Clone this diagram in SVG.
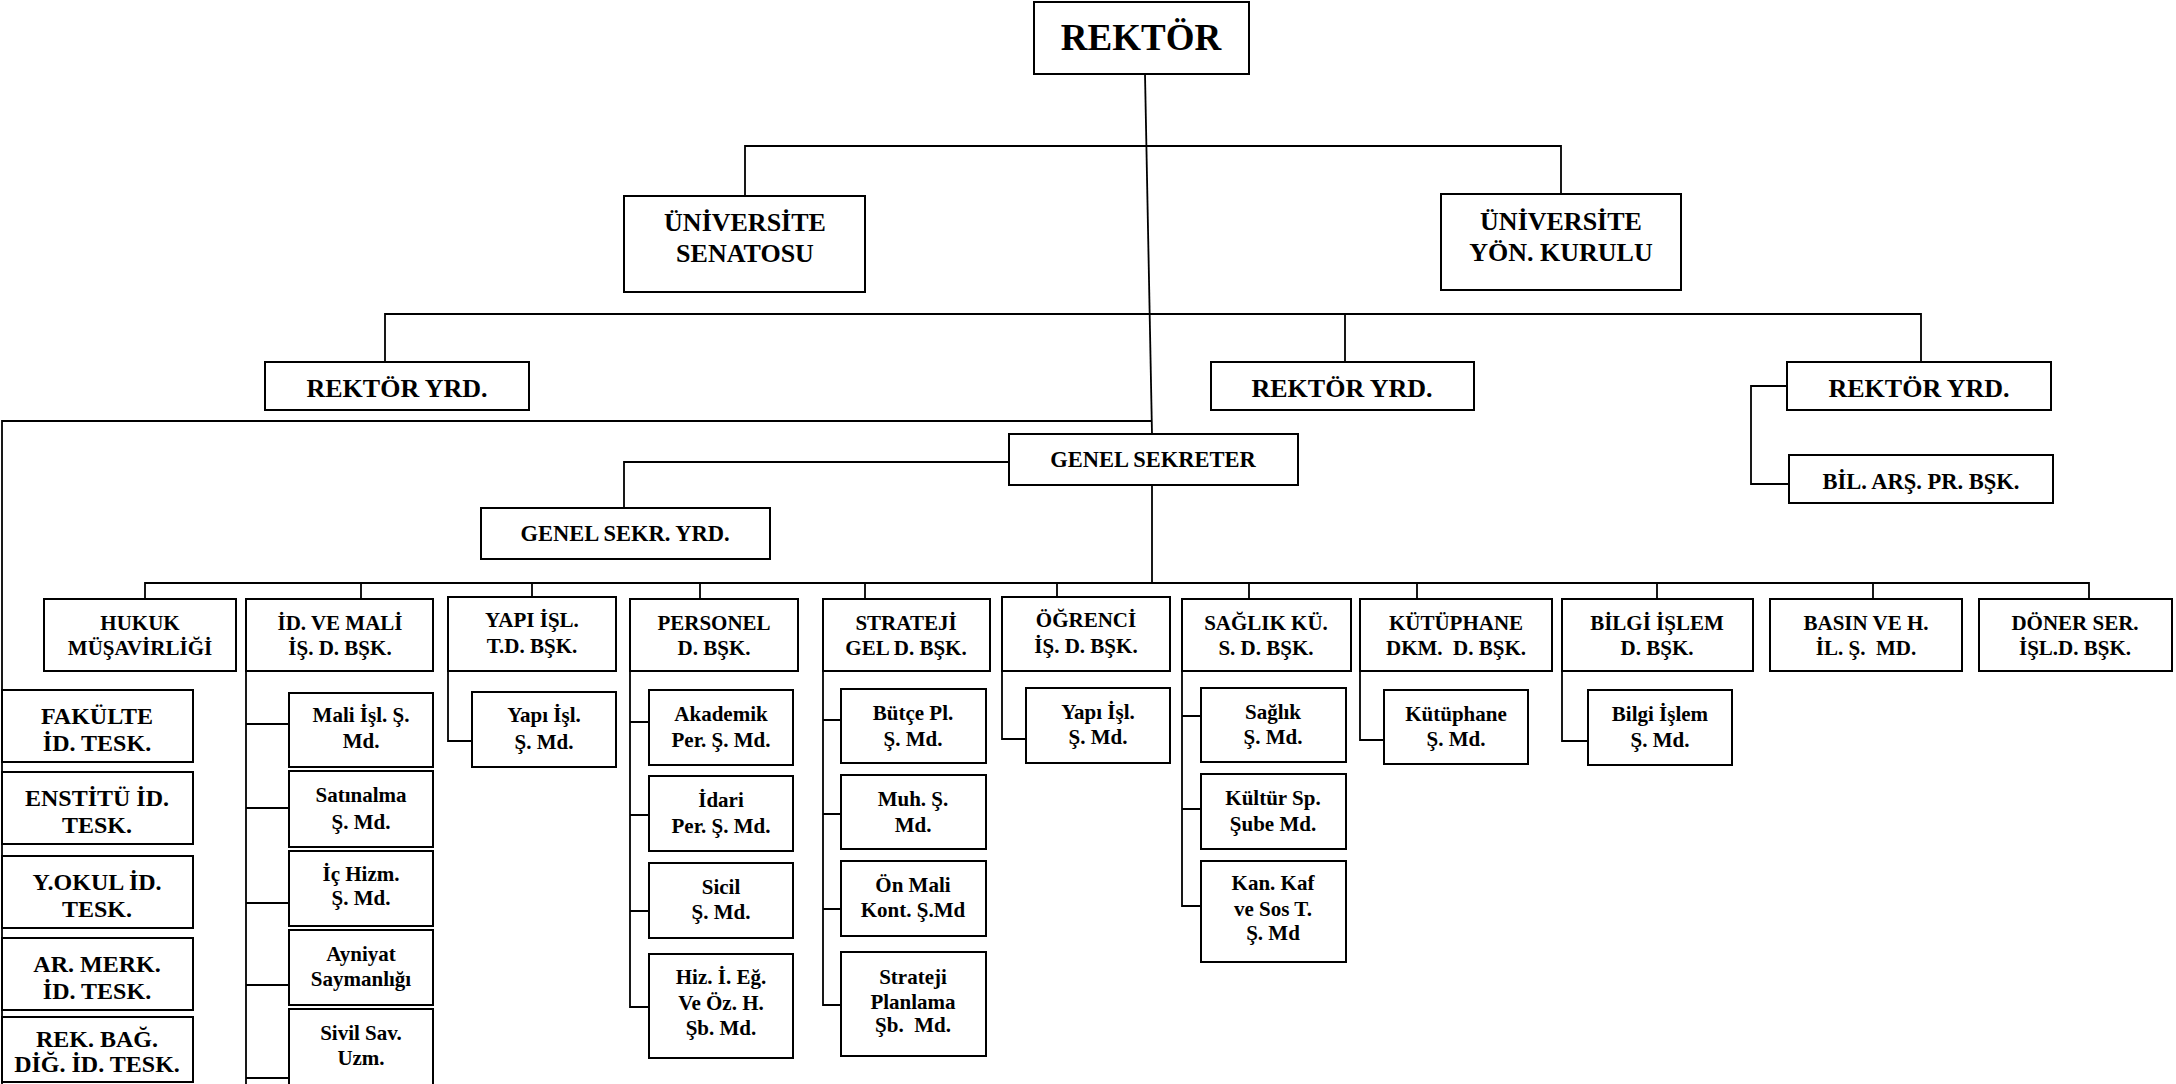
<svg xmlns="http://www.w3.org/2000/svg" width="2176" height="1084" viewBox="0 0 2176 1084">
<style>
rect{fill:#fff;stroke:#000;stroke-width:2}
text{font-family:"Liberation Serif","Times New Roman",serif;font-weight:bold;text-anchor:middle;fill:#000}
.f37{font-size:37px}.f26{font-size:26px}.f24{font-size:24px}.f22{font-size:22.5px}.f21{font-size:21px}
.c path,.c line{fill:none;stroke:#000;stroke-width:1.8}
</style>
<rect x="0" y="0" width="2176" height="1084" style="stroke:none"/>
<g class="c" id="connectors">
<path d="M1145 74 L1152 434"/>
<path d="M1152 485 V583"/>
<path d="M745 196 V146 H1561 V194"/>
<path d="M385 362 V314 H1921 V362 M1345 314 V362"/>
<path d="M1152 421 H2 V1084"/>
<path d="M1009 462 H624 V508"/>
<path d="M1787 386 H1751 V484 H1789"/>
<path d="M145 599 V583 H2089 V599 M361 583 V599 M532 583 V597 M700 583 V599 M865 583 V599 M1057 583 V597 M1249 583 V599 M1417 583 V599 M1657 583 V599 M1873 583 V599"/>
<path d="M246 671 V1084 M246 724 H289 M246 808 H289 M246 903 H289 M246 985 H289 M246 1078 H289"/>
<path d="M448 671 V741 H472"/>
<path d="M630 671 V1007 H649 M630 722 H654 M630 815 H649 M630 911 H649"/>
<path d="M823 671 V1005 H841 M823 720 H847 M823 814 H841 M823 909 H841"/>
<path d="M1002 671 V739 H1026"/>
<path d="M1182 671 V906 H1201 M1182 716 H1201 M1182 809 H1201"/>
<path d="M1360 671 V740 H1384"/>
<path d="M1562 671 V741 H1588"/>
</g>
<g id="rektor"><rect x="1034" y="2" width="215" height="72"/><text class="f37" x="1141" y="50">REKTÖR</text></g>
<g id="senato"><rect x="624" y="196" width="241" height="96"/><text class="f26" x="745" y="231">ÜNİVERSİTE</text><text class="f26" x="745" y="262">SENATOSU</text></g>
<g id="yonetim"><rect x="1441" y="194" width="240" height="96"/><text class="f26" x="1561" y="230">ÜNİVERSİTE</text><text class="f26" x="1561" y="261">YÖN. KURULU</text></g>
<g id="ryrd1"><rect x="265" y="362" width="264" height="48"/><text class="f26" x="397" y="397">REKTÖR YRD.</text></g>
<g id="ryrd2"><rect x="1211" y="362" width="263" height="48"/><text class="f26" x="1342" y="397">REKTÖR YRD.</text></g>
<g id="ryrd3"><rect x="1787" y="362" width="264" height="48"/><text class="f26" x="1919" y="397">REKTÖR YRD.</text></g>
<g id="bilars"><rect x="1789" y="455" width="264" height="48"/><text class="f22" x="1921" y="489">BİL. ARŞ. PR. BŞK.</text></g>
<g id="gensek"><rect x="1009" y="434" width="289" height="51"/><text class="f22" x="1153" y="467">GENEL SEKRETER</text></g>
<g id="gsyrd"><rect x="481" y="508" width="289" height="51"/><text class="f22" x="625" y="541">GENEL SEKR. YRD.</text></g>

<g id="hukuk"><rect x="44" y="599" width="192" height="72"/><text class="f21" x="140" y="630">HUKUK</text><text class="f21" x="140" y="655">MÜŞAVİRLİĞİ</text></g>
<g id="idmali"><rect x="246" y="599" width="187" height="72"/><text class="f21" x="340" y="630">İD. VE MALİ</text><text class="f21" x="340" y="655">İŞ. D. BŞK.</text></g>
<g id="yapi"><rect x="448" y="597" width="168" height="74"/><text class="f21" x="532" y="627">YAPI İŞL.</text><text class="f21" x="532" y="653">T.D. BŞK.</text></g>
<g id="personel"><rect x="630" y="599" width="168" height="72"/><text class="f21" x="714" y="630">PERSONEL</text><text class="f21" x="714" y="655">D. BŞK.</text></g>
<g id="strateji"><rect x="823" y="599" width="167" height="72"/><text class="f21" x="906" y="630">STRATEJİ</text><text class="f21" x="906" y="655">GEL D. BŞK.</text></g>
<g id="ogrenci"><rect x="1002" y="597" width="168" height="74"/><text class="f21" x="1086" y="627">ÖĞRENCİ</text><text class="f21" x="1086" y="653">İŞ. D. BŞK.</text></g>
<g id="saglik"><rect x="1182" y="599" width="169" height="72"/><text class="f21" x="1266" y="630">SAĞLIK KÜ.</text><text class="f21" x="1266" y="655">S. D. BŞK.</text></g>
<g id="kutuphane"><rect x="1360" y="599" width="192" height="72"/><text class="f21" x="1456" y="630">KÜTÜPHANE</text><text class="f21" x="1456" y="655" xml:space="preserve">DKM.  D. BŞK.</text></g>
<g id="bilgi"><rect x="1562" y="599" width="191" height="72"/><text class="f21" x="1657" y="630">BİLGİ İŞLEM</text><text class="f21" x="1657" y="655">D. BŞK.</text></g>
<g id="basin"><rect x="1770" y="599" width="192" height="72"/><text class="f21" x="1866" y="630">BASIN VE H.</text><text class="f21" x="1866" y="655" xml:space="preserve">İL. Ş.  MD.</text></g>
<g id="doner"><rect x="1979" y="599" width="193" height="72"/><text class="f21" x="2075" y="630">DÖNER SER.</text><text class="f21" x="2075" y="655">İŞL.D. BŞK.</text></g>

<g id="fakulte"><rect x="2" y="690" width="191" height="72"/><text class="f24" x="97" y="724">FAKÜLTE</text><text class="f24" x="97" y="751">İD. TESK.</text></g>
<g id="enstitu"><rect x="2" y="772" width="191" height="72"/><text class="f24" x="97" y="806">ENSTİTÜ İD.</text><text class="f24" x="97" y="833">TESK.</text></g>
<g id="yokul"><rect x="2" y="856" width="191" height="72"/><text class="f24" x="97" y="890">Y.OKUL İD.</text><text class="f24" x="97" y="917">TESK.</text></g>
<g id="armerk"><rect x="2" y="938" width="191" height="72"/><text class="f24" x="97" y="972">AR. MERK.</text><text class="f24" x="97" y="999">İD. TESK.</text></g>
<g id="rekbag"><rect x="2" y="1017" width="191" height="65"/><text class="f24" x="97" y="1047">REK. BAĞ.</text><text class="f24" x="97" y="1072">DİĞ. İD. TESK.</text></g>

<g id="mali"><rect x="289" y="693" width="144" height="74"/><text class="f21" x="361" y="722">Mali İşl. Ş.</text><text class="f21" x="361" y="748">Md.</text></g>
<g id="satinalma"><rect x="289" y="771" width="144" height="76"/><text class="f21" x="361" y="802">Satınalma</text><text class="f21" x="361" y="829">Ş. Md.</text></g>
<g id="ichizm"><rect x="289" y="851" width="144" height="75"/><text class="f21" x="361" y="881">İç Hizm.</text><text class="f21" x="361" y="905">Ş. Md.</text></g>
<g id="ayniyat"><rect x="289" y="930" width="144" height="75"/><text class="f21" x="361" y="961">Ayniyat</text><text class="f21" x="361" y="986">Saymanlığı</text></g>
<g id="sivil"><rect x="289" y="1009" width="144" height="76"/><text class="f21" x="361" y="1040">Sivil Sav.</text><text class="f21" x="361" y="1065">Uzm.</text></g>

<g id="yapisube"><rect x="472" y="692" width="144" height="75"/><text class="f21" x="544" y="722">Yapı İşl.</text><text class="f21" x="544" y="749">Ş. Md.</text></g>

<g id="akademik"><rect x="649" y="690" width="144" height="75"/><text class="f21" x="721" y="721">Akademik</text><text class="f21" x="721" y="747">Per. Ş. Md.</text></g>
<g id="idari"><rect x="649" y="776" width="144" height="75"/><text class="f21" x="721" y="807">İdari</text><text class="f21" x="721" y="833">Per. Ş. Md.</text></g>
<g id="sicil"><rect x="649" y="863" width="144" height="75"/><text class="f21" x="721" y="894">Sicil</text><text class="f21" x="721" y="919">Ş. Md.</text></g>
<g id="hizmetici"><rect x="649" y="954" width="144" height="104"/><text class="f21" x="721" y="984">Hiz. İ. Eğ.</text><text class="f21" x="721" y="1010">Ve Öz. H.</text><text class="f21" x="721" y="1035">Şb. Md.</text></g>

<g id="butce"><rect x="841" y="689" width="145" height="74"/><text class="f21" x="913" y="720">Bütçe Pl.</text><text class="f21" x="913" y="746">Ş. Md.</text></g>
<g id="muh"><rect x="841" y="775" width="145" height="74"/><text class="f21" x="913" y="806">Muh. Ş.</text><text class="f21" x="913" y="832">Md.</text></g>
<g id="onmali"><rect x="841" y="861" width="145" height="75"/><text class="f21" x="913" y="892">Ön Mali</text><text class="f21" x="913" y="917">Kont. Ş.Md</text></g>
<g id="planlama"><rect x="841" y="952" width="145" height="104"/><text class="f21" x="913" y="984">Strateji</text><text class="f21" x="913" y="1009">Planlama</text><text class="f21" x="913" y="1032" xml:space="preserve">Şb.  Md.</text></g>

<g id="ogryapi"><rect x="1026" y="688" width="144" height="75"/><text class="f21" x="1098" y="719">Yapı İşl.</text><text class="f21" x="1098" y="744">Ş. Md.</text></g>

<g id="sagliksube"><rect x="1201" y="688" width="145" height="74"/><text class="f21" x="1273" y="719">Sağlık</text><text class="f21" x="1273" y="744">Ş. Md.</text></g>
<g id="kultur"><rect x="1201" y="774" width="145" height="75"/><text class="f21" x="1273" y="805">Kültür Sp.</text><text class="f21" x="1273" y="831">Şube Md.</text></g>
<g id="kankaf"><rect x="1201" y="861" width="145" height="101"/><text class="f21" x="1273" y="890">Kan. Kaf</text><text class="f21" x="1273" y="916">ve Sos T.</text><text class="f21" x="1273" y="940">Ş. Md</text></g>

<g id="kutsube"><rect x="1384" y="690" width="144" height="74"/><text class="f21" x="1456" y="721">Kütüphane</text><text class="f21" x="1456" y="746">Ş. Md.</text></g>
<g id="bilgisube"><rect x="1588" y="690" width="144" height="75"/><text class="f21" x="1660" y="721">Bilgi İşlem</text><text class="f21" x="1660" y="747">Ş. Md.</text></g>
</svg>
